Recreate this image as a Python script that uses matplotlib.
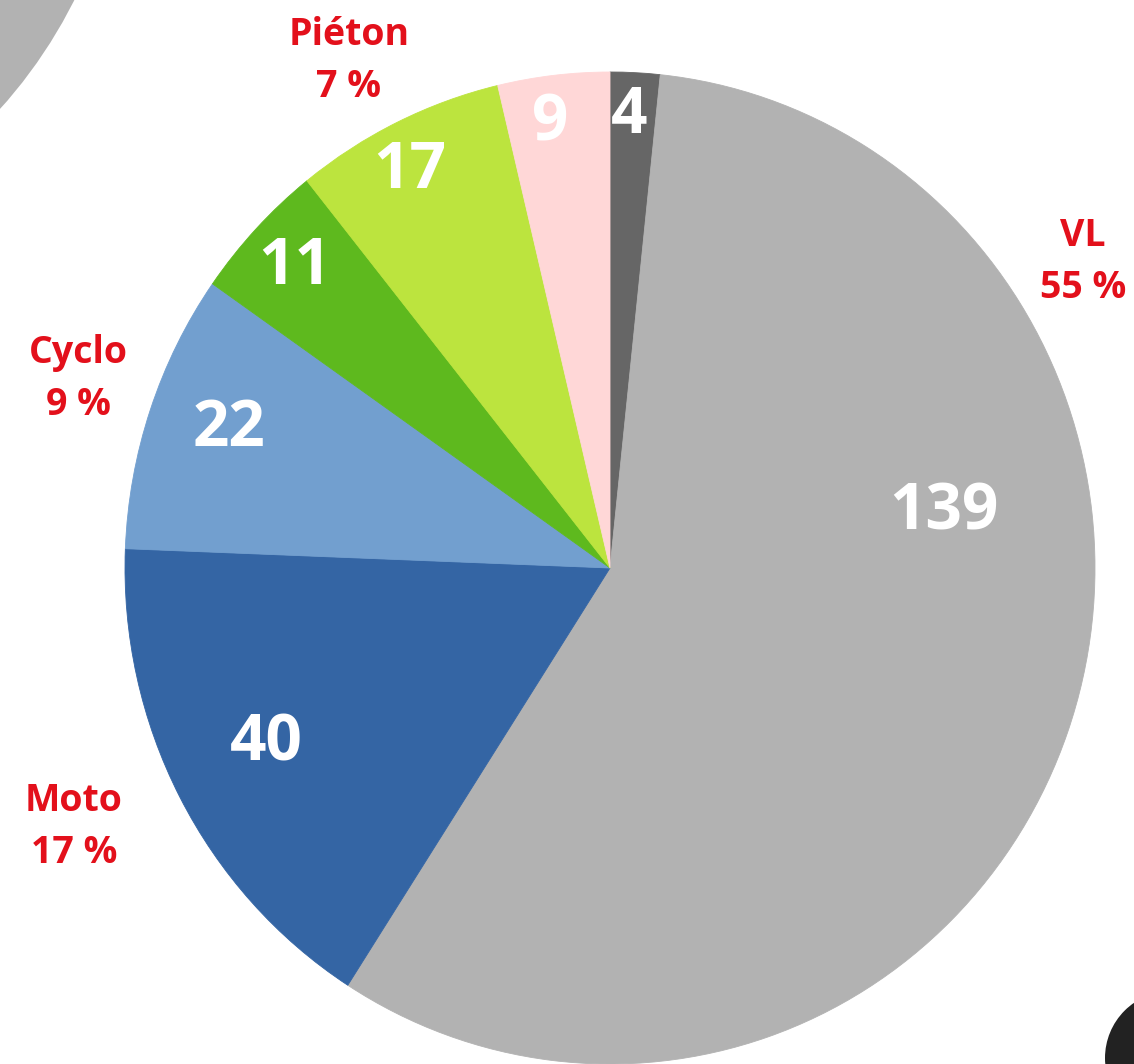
import numpy as np
import matplotlib
matplotlib.use("Agg")
import matplotlib.pyplot as plt
from matplotlib.patches import Ellipse

# ---- data ----
values = [4, 139, 40, 22, 11, 17, 9]
value_labels = ["4", "139", "40", "22", "11", "17", "9"]
colors = ["#666666", "#b2b2b2", "#3465a4", "#729fcf", "#5eb91e", "#bce43e", "#ffd7d7"]
categories = ["VL", "Moto", "Cyclo", "Piéton"]
category_pcts = ["55 %", "17 %", "9 %", "7 %"]

# label placement (fraction of radius, angle offset in degrees from wedge middle)
label_r = [0.912, 0.698, 0.793, 0.834, 0.888, 0.899, 0.904]
label_dang = [0.5, 28.5, -0.9, -1.0, 0.2, 1.3, 1.2]

W, H = 1134, 1064
CX, CY = 610, 568      # pie centre in pixels
RX, RY = 485, 496      # pixel radii

fig = plt.figure(figsize=(W / 100, H / 100), dpi=100)
ax = fig.add_axes([0, 0, 1, 1])

def px(x, y):
    return (x - CX) / RX, (CY - y) / RY

wedges, _ = ax.pie(values, colors=colors, startangle=90, counterclock=False,
                   radius=1.0, center=(0, 0),
                   wedgeprops=dict(linewidth=0.6))
for w, c in zip(wedges, colors):
    w.set_edgecolor(c)

ax.set_aspect("auto")
x0, y0 = px(0, H)
x1, y1 = px(W, 0)
ax.set_xlim(x0, x1)
ax.set_ylim(y0, y1)
ax.axis("off")

# decorative shapes at corners
cx, cy = px(-364, -219)
ax.add_patch(Ellipse((cx, cy), 2 * 490 / RX, 2 * 490 / RY,
                     color="#b2b2b2", lw=0, zorder=0))
cx, cy = px(1172, 1058)
ax.add_patch(Ellipse((cx, cy), 2 * 67 / RX, 2 * 67 / RY,
                     color="#222222", lw=0, zorder=0))

font = "Open Sans"
for w, lab, rf, da in zip(wedges, value_labels, label_r, label_dang):
    ang = np.deg2rad((w.theta1 + w.theta2) / 2 + da)
    ax.text(rf * np.cos(ang), rf * np.sin(ang), lab, color="white",
            fontsize=46, fontweight="bold", family=font,
            ha="center", va="center")

red = "#e3101b"
cat_pos = [(1083, 236), (74, 801), (78, 353), (349, 35)]
for name, pct, (x, y) in zip(categories, category_pcts, cat_pos):
    ax.text(*px(x, y), name, color=red, fontsize=27, fontweight="bold",
            family=font, ha="center", va="center")
    ax.text(*px(x, y + 52), pct, color=red, fontsize=27, fontweight="bold",
            family=font, ha="center", va="center")

fig.savefig("out.png", dpi=100)
